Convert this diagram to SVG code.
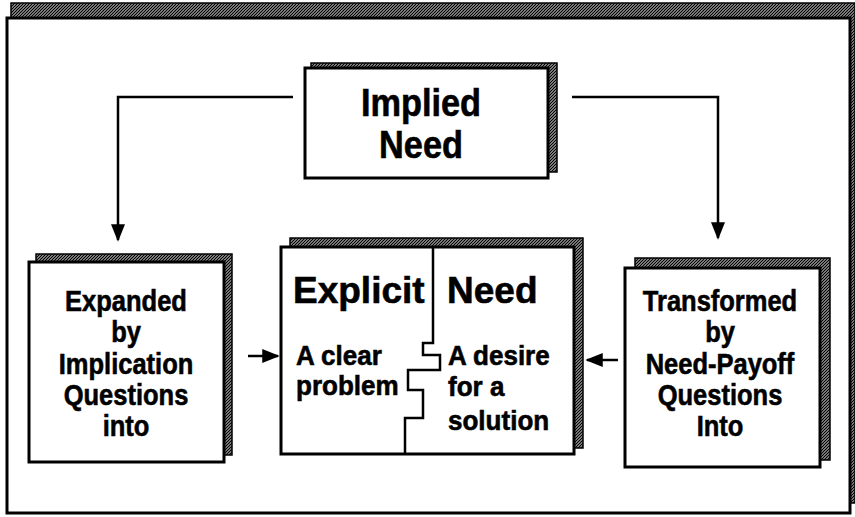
<svg xmlns="http://www.w3.org/2000/svg" width="855" height="517" viewBox="0 0 855 517">
<defs>
<pattern id="dither" width="3" height="3" patternUnits="userSpaceOnUse">
<rect width="3" height="3" fill="#ffffff"/>
<path d="M0,3 L3,0 M-1,1 L1,-1 M2,4 L4,2" stroke="#000" stroke-width="1.5"/>
</pattern>
<marker id="ah" viewBox="0 0 10 10" refX="9" refY="5" markerWidth="7" markerHeight="7" markerUnits="strokeWidth" orient="auto">
<path d="M0,1 L10,5 L0,9 Z" fill="#000"/>
</marker>
<style>
.shadow{fill:url(#dither);stroke:#000;stroke-width:1.5}
.box{fill:#fff;stroke:#000;stroke-width:3}
.t{font-family:"Liberation Sans",Arial,sans-serif;font-weight:bold;fill:#000;stroke:#000;stroke-width:0.6}
.big{font-size:39px}
.mid{font-size:37px}
.side{font-size:30px}
.sm{font-size:28px}
.conn{fill:none;stroke:#000;stroke-width:2.5}
</style>
</defs>
<rect width="855" height="517" fill="#fff"/>
<g id="frame">
<rect x="11" y="3" width="844" height="500" class="shadow"/>
<rect x="7" y="18" width="843" height="495" fill="#fff" stroke="#000" stroke-width="3"/>
</g>
<g id="connectors">
<path class="conn" d="M293,97 L118,97 L118,240" marker-end="url(#ah)"/>
<path class="conn" d="M572,97 L718,97 L718,238" marker-end="url(#ah)"/>
<path class="conn" d="M248,356 L278,356" marker-end="url(#ah)"/>
<path class="conn" d="M618,360 L587,360" marker-end="url(#ah)"/>
</g>
<g id="implied-need">
<rect x="311" y="63" width="246" height="109" class="shadow"/>
<rect x="305" y="68" width="243" height="110" class="box"/>
<g transform="translate(421,0) scale(0.88,1)" class="t big" text-anchor="middle">
<text x="0" y="116">Implied</text>
<text x="0" y="158">Need</text>
</g>
</g>
<g id="expanded">
<rect x="36" y="254" width="196" height="201" class="shadow"/>
<rect x="29" y="262" width="195" height="200" class="box"/>
<g transform="translate(126,0) scale(0.85,1)" class="t side" text-anchor="middle">
<text x="0" y="311">Expanded</text>
<text x="0" y="342">by</text>
<text x="0" y="374">Implication</text>
<text x="0" y="405">Questions</text>
<text x="0" y="436">into</text>
</g>
</g>
<g id="explicit-need">
<rect x="290" y="238" width="293" height="210" class="shadow"/>
<rect x="281" y="247" width="293" height="207" class="box"/>
<path d="M433,247 L433,343 L423,343 L423,355 L440,355 L440,370 L408,370 L408,390 L423,390 L423,418 L405,418 L405,454" fill="none" stroke="#000" stroke-width="2.5"/>
<text class="t mid" x="293" y="303">Explicit</text>
<text class="t mid" x="447" y="303">Need</text>
<g transform="translate(296,0) scale(0.93,1)" class="t sm">
<text x="0" y="365">A clear</text>
<text x="0" y="395">problem</text>
</g>
<g transform="translate(448,0) scale(0.93,1)" class="t sm">
<text x="0" y="365">A desire</text>
<text x="0" y="396">for a</text>
<text x="0" y="430">solution</text>
</g>
</g>
<g id="transformed">
<rect x="635" y="258" width="195" height="202" class="shadow"/>
<rect x="625" y="268" width="195" height="199" class="box"/>
<g transform="translate(720,0) scale(0.85,1)" class="t side" text-anchor="middle">
<text x="0" y="311">Transformed</text>
<text x="0" y="342">by</text>
<text x="0" y="374">Need-Payoff</text>
<text x="0" y="405">Questions</text>
<text x="0" y="436">Into</text>
</g>
</g>
</svg>
